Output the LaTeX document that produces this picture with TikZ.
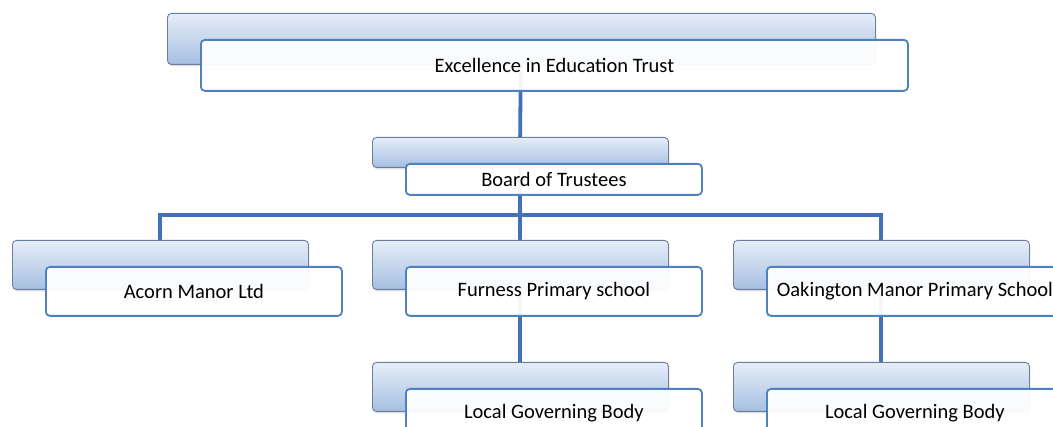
\documentclass[tikz,border=0pt]{standalone}
\usepackage{fontspec}
\setmainfont{Carlito}
\usetikzlibrary{shadows}
\definecolor{linkblue}{HTML}{4272B5}
\definecolor{frameblue}{HTML}{4F81BD}
\definecolor{backtop}{HTML}{E6EDF7}
\definecolor{backbot}{HTML}{A6BFE2}
\definecolor{backedge}{HTML}{6A7F9C}
\tikzset{
  backbox/.style={rectangle, rounded corners=4pt, draw=backedge, line width=0.9pt,
    top color=backtop, bottom color=backbot, anchor=north west, inner sep=0pt,
    drop shadow={shadow xshift=1pt, shadow yshift=-2pt, opacity=0.25}},
  frontbox/.style={rectangle, rounded corners=4pt, draw=frameblue, line width=1.8pt,
    fill=white, fill opacity=0.94, text opacity=1, anchor=north west, inner sep=0pt,
    font=\fontsize{20.5}{23}\selectfont, text=black},
  link/.style={draw=linkblue, line width=3.8pt}
}
\begin{document}
\begin{tikzpicture}[x=1pt, y=-1pt]
\useasboundingbox (0,0) rectangle (1053,427);
\clip (0,0) rectangle (1053,427);
\fill[white] (0,0) rectangle (1053,427);

% anchor points at the centres of the back plates
\coordinate (trustC) at (521,38.5);
\coordinate (boardC) at (520,152);
\coordinate (acornC) at (160,264.5);
\coordinate (furnC) at (520,264.5);
\coordinate (oakC) at (881,264.5);
\coordinate (lgbfC) at (520,386.5);
\coordinate (lgboC) at (881,386.5);
\coordinate (split) at (520,215);

% connectors, drawn first so that the plates cover them
\draw[link] (trustC) -- (boardC);
\draw[link] (boardC) -- (split);
\draw[link] (split) -| (acornC);
\draw[link] (split) -| (oakC);
\draw[link] (split) -- (furnC);
\draw[link] (furnC) -- (lgbfC);
\draw[link] (oakC) -- (lgboC);

% back plates
\node[backbox, minimum width=708pt, minimum height=51pt] (trustB) at (167,13) {};
\node[backbox, minimum width=296pt, minimum height=30pt] (boardB) at (372,137) {};
\node[backbox, minimum width=296pt, minimum height=49pt] (acornB) at (12,240) {};
\node[backbox, minimum width=296pt, minimum height=49pt] (furnB) at (372,240) {};
\node[backbox, minimum width=296pt, minimum height=49pt] (oakB) at (733,240) {};
\node[backbox, minimum width=296pt, minimum height=49pt] (lgbfB) at (372,362) {};
\node[backbox, minimum width=296pt, minimum height=49pt] (lgboB) at (733,362) {};

% front labels
\node[frontbox, minimum width=707pt, minimum height=51pt] (trust) at (200,39) {Excellence in Education Trust};
\node[frontbox, minimum width=296pt, minimum height=31pt] (board) at (405,163) {Board of Trustees};
\node[frontbox, minimum width=296pt, minimum height=49pt] (acorn) at (45,266) {Acorn Manor Ltd};
\node[frontbox, minimum width=296pt, minimum height=49pt] (furn) at (405,266) {Furness Primary school};
\node[frontbox, minimum width=296pt, minimum height=49pt] (oak) at (766,266) {Oakington Manor Primary School};
\node[frontbox, minimum width=296pt, minimum height=49pt] (lgbf) at (405,388) {Local Governing Body};
\node[frontbox, minimum width=296pt, minimum height=49pt] (lgbo) at (766,388) {Local Governing Body};
\end{tikzpicture}
\end{document}
